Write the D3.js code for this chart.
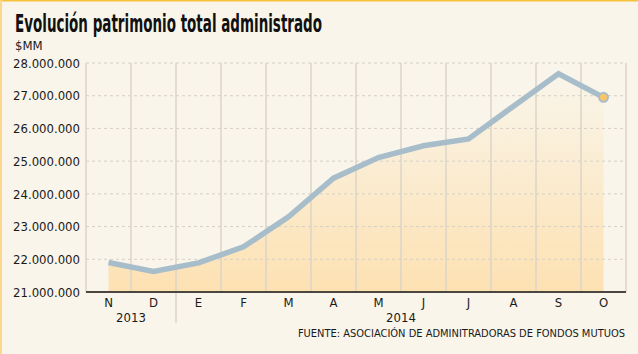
<!DOCTYPE html>
<html>
<head>
<meta charset="utf-8">
<script src="https://cdn.jsdelivr.net/npm/d3@7"></script>
<style>
  html, body { margin: 0; padding: 0; background: #f9f5ea; }
  svg { display: block; }
  text { font-family: Tahoma, "DejaVu Sans Condensed", "Noto Sans", sans-serif; fill: #1a1a1a; }
</style>
</head>
<body>
<div id="chart"></div>
<script>
// Patrimonio total administrado, en $MM
const months = ["N", "D", "E", "F", "M", "A", "M", "J", "J", "A", "S", "O"];
const values = [21.90, 21.63, 21.89, 22.38, 23.30, 24.48, 25.11, 25.47, 25.68, 26.68, 27.67, 26.95];
const years = [
  { label: "2013", from: 0, to: 1 },
  { label: "2014", from: 2, to: 11 }
];
const yTicks = [21, 22, 23, 24, 25, 26, 27, 28];

const W = 638, H = 354;
const margin = { top: 63, right: 12, bottom: 62, left: 86 };
const width = W - margin.left - margin.right;
const height = H - margin.top - margin.bottom;

const svg = d3.select("#chart").append("svg")
  .attr("width", W)
  .attr("height", H);

svg.append("rect").attr("width", W).attr("height", H).attr("fill", "#f9f5ea");
// gold frame, top and left
svg.append("rect").attr("x", 0).attr("y", 0).attr("width", W).attr("height", 1.5).attr("fill", "#f6c23c");
svg.append("rect").attr("x", 0).attr("y", 0).attr("width", 2).attr("height", H).attr("fill", "#fcd88c");

const idx = d3.range(months.length);
const x = d3.scaleBand().domain(idx).range([0, width]).padding(0);
const y = d3.scaleLinear().domain([21, 28]).range([height, 0]);
const cx = i => x(i) + x.bandwidth() / 2;

// title
svg.append("text")
  .attr("x", 15).attr("y", 32)
  .attr("font-size", 25).attr("font-weight", "bold")
  .attr("textLength", 307).attr("lengthAdjust", "spacingAndGlyphs")
  .style("font-family", "'DejaVu Sans', Verdana, sans-serif")
  .style("fill", "#111")
  .text("Evolución patrimonio total administrado");

svg.append("text")
  .attr("x", 15).attr("y", 50)
  .attr("font-size", 13)
  .text("$MM");

const g = svg.append("g").attr("transform", `translate(${margin.left},${margin.top})`);

// gradient under the line
const defs = svg.append("defs");
const grad = defs.append("linearGradient")
  .attr("id", "fill-grad")
  .attr("gradientUnits", "userSpaceOnUse")
  .attr("x1", 0).attr("y1", y(21)).attr("x2", 0).attr("y2", y(27.6));
grad.append("stop").attr("offset", 0).attr("stop-color", "#fde1b2").attr("stop-opacity", 1);
grad.append("stop").attr("offset", 1).attr("stop-color", "#fde1b2").attr("stop-opacity", 0);

const area = d3.area()
  .x(i => cx(i))
  .y0(y(21))
  .y1(i => y(values[i]));

g.append("path")
  .datum(idx)
  .attr("d", area)
  .attr("fill", "url(#fill-grad)");

// horizontal dashed grid
g.append("g")
  .selectAll("line")
  .data(yTicks.filter(t => t > 21))
  .join("line")
  .attr("x1", 0).attr("x2", width)
  .attr("y1", d => y(d)).attr("y2", d => y(d))
  .attr("stroke", "#d6d0c6")
  .attr("stroke-width", 1)
  .attr("stroke-dasharray", "3,3");

// vertical grid at column boundaries
g.append("g")
  .selectAll("line")
  .data(d3.range(months.length + 1))
  .join("line")
  .attr("x1", i => i < months.length ? x(i) : width)
  .attr("x2", i => i < months.length ? x(i) : width)
  .attr("y1", 0).attr("y2", height)
  .attr("stroke", "#dbd4c8")
  .attr("stroke-width", 1.5);

// year separator below axis
const sepX = x(years[1].from);
g.append("line")
  .attr("x1", sepX).attr("x2", sepX)
  .attr("y1", height).attr("y2", height + 31)
  .attr("stroke", "#dbd4c8")
  .attr("stroke-width", 1.5);

// y labels
g.append("g")
  .selectAll("text")
  .data(yTicks)
  .join("text")
  .attr("x", -6)
  .attr("y", d => y(d))
  .attr("dy", "0.36em")
  .attr("text-anchor", "end")
  .attr("font-size", 13)
  .text(d => d3.format(",")(d * 1e6).replace(/,/g, "."));

// bottom axis line
g.append("line")
  .attr("x1", 0).attr("x2", width)
  .attr("y1", height).attr("y2", height)
  .attr("stroke", "#4b4640")
  .attr("stroke-width", 2);

// month labels
g.append("g")
  .selectAll("text")
  .data(idx)
  .join("text")
  .attr("x", i => cx(i))
  .attr("y", height + 15)
  .attr("text-anchor", "middle")
  .attr("font-size", 13)
  .text(i => months[i]);

// year labels
g.append("g")
  .selectAll("text")
  .data(years)
  .join("text")
  .attr("x", d => (x(d.from) + x(d.to) + x.bandwidth()) / 2)
  .attr("y", height + 30)
  .attr("text-anchor", "middle")
  .attr("font-size", 13)
  .text(d => d.label);

// line
const line = d3.line()
  .x(i => cx(i))
  .y(i => y(values[i]));

g.append("path")
  .datum(idx)
  .attr("d", line)
  .attr("fill", "none")
  .attr("stroke", "#a8bdca")
  .attr("stroke-width", 5.5)
  .attr("stroke-linejoin", "miter");

// end point marker
const last = values.length - 1;
g.append("circle")
  .attr("cx", cx(last))
  .attr("cy", y(values[last]))
  .attr("r", 4.5)
  .attr("fill", "#fbc469")
  .attr("stroke", "#a8bdca")
  .attr("stroke-width", 2);

// source
svg.append("text")
  .attr("x", 625).attr("y", 337)
  .attr("text-anchor", "end")
  .attr("font-size", 11)
  .text("FUENTE: ASOCIACIÓN DE ADMINITRADORAS DE FONDOS MUTUOS");
</script>
</body>
</html>
